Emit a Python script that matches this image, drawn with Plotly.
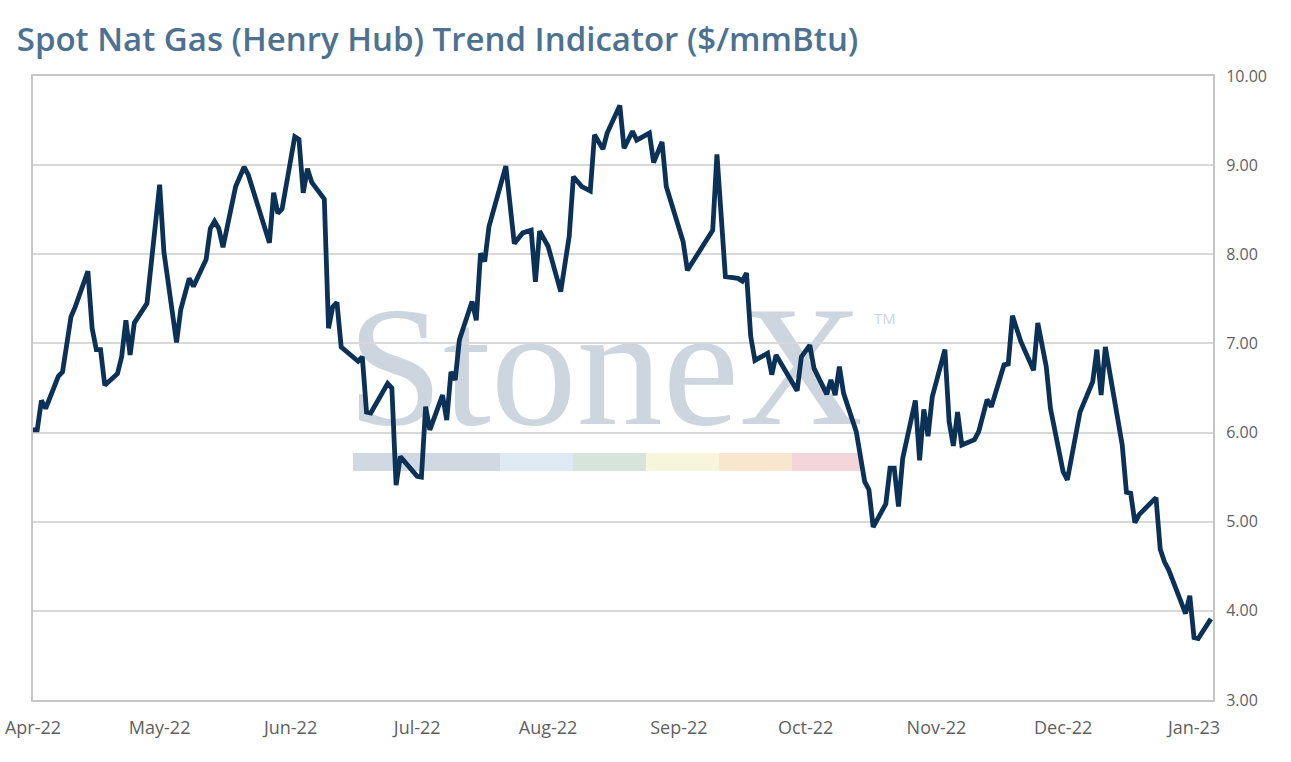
import plotly.graph_objects as go

# vertices of the trend line
dates = [
    '2022-04-01', '2022-04-02', '2022-04-03', '2022-04-04', '2022-04-07', '2022-04-08',
    '2022-04-10', '2022-04-11', '2022-04-14', '2022-04-15', '2022-04-16', '2022-04-17',
    '2022-04-18', '2022-04-21', '2022-04-22', '2022-04-23', '2022-04-24', '2022-04-25',
    '2022-04-28', '2022-05-01', '2022-05-02', '2022-05-05', '2022-05-06', '2022-05-08',
    '2022-05-09', '2022-05-12', '2022-05-13', '2022-05-14', '2022-05-15', '2022-05-16',
    '2022-05-19', '2022-05-21', '2022-05-22', '2022-05-27', '2022-05-28', '2022-05-29',
    '2022-05-30', '2022-06-02', '2022-06-03', '2022-06-04', '2022-06-05', '2022-06-06',
    '2022-06-09', '2022-06-10', '2022-06-11', '2022-06-12', '2022-06-13', '2022-06-17',
    '2022-06-18', '2022-06-19', '2022-06-20', '2022-06-24', '2022-06-25', '2022-06-26',
    '2022-06-27', '2022-07-01', '2022-07-02', '2022-07-03', '2022-07-04', '2022-07-07',
    '2022-07-08', '2022-07-09', '2022-07-10', '2022-07-11', '2022-07-14', '2022-07-15',
    '2022-07-16', '2022-07-17', '2022-07-18', '2022-07-22', '2022-07-24', '2022-07-26',
    '2022-07-28', '2022-07-29', '2022-07-30', '2022-08-01', '2022-08-04', '2022-08-06',
    '2022-08-07', '2022-08-09', '2022-08-11', '2022-08-12', '2022-08-14', '2022-08-15',
    '2022-08-18', '2022-08-19', '2022-08-21', '2022-08-22', '2022-08-25', '2022-08-26',
    '2022-08-28', '2022-08-29', '2022-09-02', '2022-09-03', '2022-09-09', '2022-09-10',
    '2022-09-12', '2022-09-15', '2022-09-16', '2022-09-17', '2022-09-18', '2022-09-19',
    '2022-09-22', '2022-09-23', '2022-09-24', '2022-09-29', '2022-09-30', '2022-10-02',
    '2022-10-03', '2022-10-06', '2022-10-07', '2022-10-08', '2022-10-09', '2022-10-10',
    '2022-10-13', '2022-10-15', '2022-10-16', '2022-10-17', '2022-10-20', '2022-10-21',
    '2022-10-22', '2022-10-23', '2022-10-24', '2022-10-27', '2022-10-28', '2022-10-29',
    '2022-10-30', '2022-10-31', '2022-11-03', '2022-11-04', '2022-11-05', '2022-11-06',
    '2022-11-07', '2022-11-10', '2022-11-11', '2022-11-13', '2022-11-14', '2022-11-17',
    '2022-11-18', '2022-11-19', '2022-11-21', '2022-11-24', '2022-11-25', '2022-11-27',
    '2022-11-28', '2022-12-01', '2022-12-02', '2022-12-05', '2022-12-08', '2022-12-09',
    '2022-12-10', '2022-12-11', '2022-12-15', '2022-12-16', '2022-12-17', '2022-12-18',
    '2022-12-19', '2022-12-23', '2022-12-24', '2022-12-25', '2022-12-26', '2022-12-30',
    '2022-12-31', '2023-01-01', '2023-01-02', '2023-01-05',
]
prices = [
    6.03, 6.03, 6.36, 6.27, 6.63, 6.68,
    7.30, 7.41, 7.81, 7.17, 6.93, 6.93,
    6.53, 6.66, 6.85, 7.26, 6.87, 7.23,
    7.45, 8.78, 8.03, 7.01, 7.38, 7.73,
    7.64, 7.94, 8.29, 8.37, 8.29, 8.08,
    8.76, 8.98, 8.89, 8.13, 8.69, 8.46,
    8.51, 9.32, 9.29, 8.69, 8.96, 8.81,
    8.62, 7.17, 7.41, 7.46, 6.96, 6.80,
    6.85, 6.23, 6.22, 6.55, 6.50, 5.41,
    5.73, 5.51, 5.50, 6.29, 6.03, 6.42,
    6.14, 6.68, 6.59, 7.04, 7.47, 7.26,
    8.01, 7.92, 8.31, 8.99, 8.12, 8.24,
    8.27, 7.69, 8.26, 8.09, 7.58, 8.20,
    8.87, 8.76, 8.71, 9.34, 9.18, 9.36,
    9.67, 9.19, 9.38, 9.28, 9.36, 9.03,
    9.26, 8.76, 8.14, 7.82, 8.27, 9.12,
    7.75, 7.73, 7.70, 7.79, 7.08, 6.81,
    6.89, 6.65, 6.87, 6.47, 6.85, 6.98,
    6.72, 6.43, 6.59, 6.42, 6.74, 6.44,
    6.01, 5.45, 5.36, 4.94, 5.20, 5.60,
    5.60, 5.17, 5.71, 6.36, 5.69, 6.26,
    5.96, 6.40, 6.93, 6.12, 5.85, 6.23,
    5.86, 5.92, 6.01, 6.37, 6.29, 6.76,
    6.77, 7.31, 7.02, 6.70, 7.23, 6.74,
    6.27, 5.56, 5.47, 6.23, 6.57, 6.93,
    6.42, 6.96, 5.86, 5.33, 5.32, 4.99,
    5.08, 5.27, 4.69, 4.55, 4.46, 3.97,
    4.17, 3.70, 3.69, 3.91,
]

month_ticks = ['2022-04-01', '2022-05-01', '2022-06-01', '2022-07-01', '2022-08-01',
               '2022-09-01', '2022-10-01', '2022-11-01', '2022-12-01', '2023-01-01']
month_labels = ['Apr-22', 'May-22', 'Jun-22', 'Jul-22', 'Aug-22',
                'Sep-22', 'Oct-22', 'Nov-22', 'Dec-22', 'Jan-23']

band_colors = ['#d0d8e2', '#dfe9f3', '#d6e4dc', '#f7f5dc', '#f8e6cf', '#f1d5d8']
band_edges = [0.2712, 0.3958, 0.4576, 0.5195, 0.5814, 0.6432, 0.7025]

fig = go.Figure()

fig.add_trace(go.Scatter(
    x=dates,
    y=prices,
    mode='lines',
    line=dict(color='#0b3256', width=4.8),
    showlegend=False,
    hovertemplate='%{x|%d-%b-%y}: %{y:.2f}<extra></extra>'
))

# StoneX watermark
fig.add_shape(
    type='rect', xref='paper', yref='paper',
    x0=0.26, x1=0.71, y0=0.46, y1=0.67,
    line=dict(width=0), fillcolor='rgba(0,0,0,0)', layer='below',
    label=dict(text='StoneX', textposition='middle center',
               font=dict(family='Liberation Serif', size=172, color='#cdd5de'))
)
fig.add_shape(
    type='rect', xref='paper', yref='paper',
    x0=0.708, x1=0.736, y0=0.59, y1=0.63,
    line=dict(width=0), fillcolor='rgba(0,0,0,0)', layer='below',
    label=dict(text='TM', textposition='middle center',
               font=dict(family='Open Sans', size=15, color='#cdd5de'))
)
for i, c in enumerate(band_colors):
    fig.add_shape(
        type='rect', xref='paper', yref='paper',
        x0=band_edges[i], x1=band_edges[i + 1], y0=0.367, y1=0.396,
        line=dict(width=0), fillcolor=c, layer='below'
    )

fig.update_layout(
    width=1291,
    height=762,
    margin=dict(l=33, r=78, t=76, b=62, autoexpand=False),
    paper_bgcolor='white',
    plot_bgcolor='white',
    font=dict(family='Open Sans', color='#5f5f5f'),
    title=dict(
        text='Spot Nat Gas (Henry Hub) Trend Indicator ($/mmBtu)',
        x=0.013, xref='container', xanchor='left',
        y=0.948, yref='container', yanchor='middle',
        font=dict(family='Open Sans', size=33, color='#4d7190', weight=600)
    ),
    xaxis=dict(
        type='date',
        range=['2022-04-01', '2023-01-05 12:00'],
        tickvals=month_ticks,
        ticktext=month_labels,
        showgrid=False,
        showline=True, linecolor='#c6c6c6', linewidth=2, mirror=True,
        ticks='', ticklabelstandoff=10, automargin=False,
        ticklabeloverflow='allow',
        tickfont=dict(size=18, color='#5f5f5f')
    ),
    yaxis=dict(
        side='right',
        range=[3, 10],
        dtick=1,
        tickformat='.2f',
        showgrid=True, gridcolor='#d9d9d9', gridwidth=1.5,
        showline=True, linecolor='#c6c6c6', linewidth=2, mirror=True,
        zeroline=False,
        ticks='', ticklabelstandoff=8, automargin=False,
        tickfont=dict(size=16, color='#5f5f5f')
    ),
    hovermode='x unified'
)

# drop the default page margin so the figure fills the window exactly
fig.write_html('out.html', config={'displayModeBar': False},
               post_script="document.body.style.margin = '0';")
